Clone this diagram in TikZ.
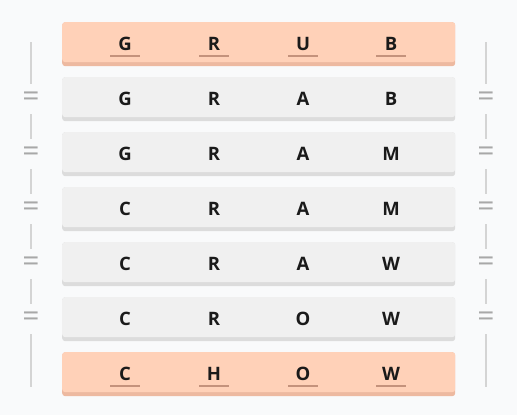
\documentclass[tikz,border=0pt]{standalone}
\usepackage{fontspec}
\setmainfont{Open Sans}
\usetikzlibrary{positioning}
\definecolor{bgcol}{HTML}{F9FAFB}
\definecolor{peach}{HTML}{FFD1B8}
\definecolor{peachshade}{HTML}{EDB9A0}
\definecolor{peachline}{HTML}{C4927C}
\definecolor{rowgray}{HTML}{F0F0F0}
\definecolor{rowshade}{HTML}{DCDCDC}
\definecolor{sidegray}{HTML}{D4D4D4}
\definecolor{eqgray}{HTML}{A8A8A8}
\definecolor{ink}{HTML}{1A1A1A}

\tikzset{
	rowbox/.style={rounded corners=3pt,minimum width=393pt,minimum height=40pt,inner sep=0pt,anchor=north west},
	rowshadow/.style={rowbox,minimum height=44pt},
	letter/.style={font=\fontsize{18.5}{18.5}\selectfont\bfseries,text=ink,inner sep=0pt},
	eqsign/.style={font=\fontsize{30}{30}\selectfont,text=eqgray,inner sep=0pt,minimum height=30pt},
	sideline/.style={draw=sidegray,line width=1.2pt},
	mark line/.style={draw=peachline,line width=2pt}
}

\begin{document}
\begin{tikzpicture}[x=1pt,y=-1pt]
	\fill[bgcol] (0,0) rectangle (517,415);
	\useasboundingbox (0,0) rectangle (517,415);
	% the seven words
	\foreach \word [count=\i] in {GRUB,GRAB,GRAM,CRAM,CRAW,CROW,CHOW}{
		\pgfmathsetmacro{\ytop}{22+55*(\i-1)}
		\ifnum\i=1 \def\fillc{peach}\def\shadec{peachshade}\else
		\ifnum\i=7 \def\fillc{peach}\def\shadec{peachshade}\else
		\def\fillc{rowgray}\def\shadec{rowshade}\fi\fi
		\node[rowshadow,fill=\shadec] (s\i) at (62,\ytop) {};
		\node[rowbox,fill=\fillc] (r\i) at (62,\ytop) {};
	}
	% letters
	\foreach \a/\b/\c/\d [count=\i] in {G/R/U/B,G/R/A/B,G/R/A/M,C/R/A/M,C/R/A/W,C/R/O/W,C/H/O/W}{
		\pgfmathsetmacro{\yc}{44+55*(\i-1)}
		\node[letter] (l\i-1) at (125,\yc) {\a};
		\node[letter] (l\i-2) at (214,\yc) {\b};
		\node[letter] (l\i-3) at (303,\yc) {\c};
		\node[letter] (l\i-4) at (391,\yc) {\d};
	}
	% underlines on first and last word
	\foreach \i in {1,7}{
		\foreach \j in {1,...,4}{
			\draw[mark line] ([xshift=-15pt,yshift=-12pt]l\i-\j.center) -- ([xshift=15pt,yshift=-12pt]l\i-\j.center);
		}
	}
	% equal signs and side rails
	\foreach \side/\x in {L/31,R/486}{
		\coordinate (\side top) at (\x,42);
		\coordinate (\side bot) at (\x,387);
		\foreach \k in {1,...,5}{
			\pgfmathsetmacro{\ye}{99+55*(\k-1)}
			\node[eqsign] (\side e\k) at (\x,\ye) {=};
		}
		\draw[sideline] (\side top) -- (\side e1.north);
		\draw[sideline] (\side e1.south) -- (\side e2.north);
		\draw[sideline] (\side e2.south) -- (\side e3.north);
		\draw[sideline] (\side e3.south) -- (\side e4.north);
		\draw[sideline] (\side e4.south) -- (\side e5.north);
		\draw[sideline] (\side e5.south) -- (\side bot);
	}
\end{tikzpicture}
\end{document}
